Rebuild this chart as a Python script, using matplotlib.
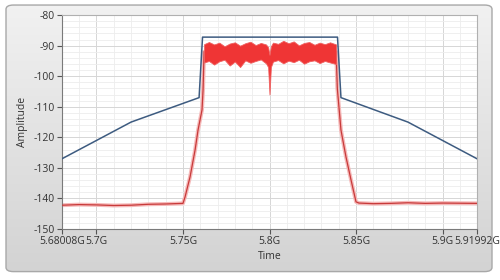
import numpy as np
import matplotlib
matplotlib.use("Agg")
import matplotlib.pyplot as plt
from matplotlib.patches import FancyBboxPatch
from matplotlib.ticker import MultipleLocator, FixedLocator, FuncFormatter

plt.rcParams['font.family'] = ['Open Sans', 'DejaVu Sans']
plt.rcParams['axes.unicode_minus'] = False

# spectral mask (blue)
mask_t = [5.68008, 5.72, 5.7593, 5.7613, 5.8393, 5.8413, 5.88, 5.91992]
mask_a = [-127, -115, -107, -87.2, -87.2, -107, -115, -127]

# measured signal (red): floor + ramps
left_t = [5.68008, 5.690, 5.700, 5.710, 5.720, 5.730, 5.740, 5.7500,
          5.7512, 5.7541, 5.7570, 5.7587, 5.7610, 5.7616, 5.7622]
left_a = [-142.2, -142.0, -142.1, -142.3, -142.2, -141.9, -141.8, -141.6,
          -139.5, -132.9, -124.1, -117.6, -111.0, -104.5, -92.0]
right_t = [5.8385, 5.8392, 5.8413, 5.8442, 5.8471, 5.8500, 5.8517,
           5.860, 5.870, 5.880, 5.890, 5.900, 5.91992]
right_a = [-92.0, -104.0, -117.6, -126.4, -133.9, -141.1, -141.5,
           -141.7, -141.6, -141.4, -141.6, -141.5, -141.6]

# in-band noisy region, upper/lower envelope
band_t = [5.7622, 5.765, 5.768, 5.771, 5.774, 5.777, 5.780, 5.783, 5.786,
          5.789, 5.792, 5.795, 5.798, 5.7992, 5.8000, 5.8008, 5.802, 5.805,
          5.808, 5.811, 5.814, 5.817, 5.820, 5.823, 5.826, 5.829, 5.832,
          5.835, 5.8385]
band_hi = [-89.5, -88.8, -89.6, -89.0, -90.2, -89.3, -88.9, -90.0, -89.2,
           -88.7, -89.8, -89.1, -89.6, -90.5, -93.0, -90.2, -89.0, -89.4,
           -88.4, -89.2, -88.6, -89.9, -89.1, -88.8, -89.7, -89.0, -89.5,
           -88.9, -89.6]
band_lo = [-95.5, -95.0, -96.2, -95.1, -94.6, -96.5, -95.2, -97.0, -94.8,
           -95.6, -95.0, -94.5, -95.8, -97.0, -106.0, -97.0, -95.2, -94.7,
           -95.8, -94.9, -95.4, -94.6, -95.9, -95.1, -94.8, -95.7, -95.0,
           -95.5, -96.0]

x_ticks = [5.68008, 5.7, 5.75, 5.8, 5.85, 5.9, 5.91992]
x_labels = ["5.68008G", "5.7G", "5.75G", "5.8G", "5.85G", "5.9G", "5.91992G"]
y_ticks = [-150, -140, -130, -120, -110, -100, -90, -80]

fig = plt.figure(figsize=(5.0, 2.8), dpi=100)

# grey rounded panel with vertical gradient
bg = fig.add_axes([0, 0, 1, 1])
bg.set_xlim(0, 1)
bg.set_ylim(0, 1)
bg.axis("off")
grad = np.linspace(0, 1, 256).reshape(-1, 1)
im = bg.imshow(grad, extent=[0, 1, 0, 1], aspect="auto", origin="lower",
               cmap=matplotlib.colors.LinearSegmentedColormap.from_list(
                   "g", ["#d2d2d2", "#f2f2f2"]))
panel = FancyBboxPatch((0.012, 0.03), 0.972, 0.952,
                       boxstyle="round,pad=0,rounding_size=0.015",
                       transform=bg.transAxes, fc="none", ec="#a8a8a8", lw=1.0)
bg.add_patch(panel)
im.set_clip_path(panel)

ax = fig.add_axes([0.124, 0.182, 0.830, 0.764])
ax.set_facecolor("white")

ax.plot(mask_t, mask_a, color="#3d5b80", lw=1.1, zorder=4)

for t, a in [(left_t, left_a), (right_t, right_a)]:
    ax.plot(t, a, color="#f5b8b8", lw=2.8, zorder=2, solid_capstyle="round")
    ax.plot(t, a, color="#c83a3a", lw=0.9, zorder=3)
ax.fill_between(band_t, band_lo, band_hi, color="#ef3535", lw=0.6,
                edgecolor="#f06060", zorder=3)

ax.set_xlim(5.68008, 5.91992)
ax.set_ylim(-150, -80)
ax.xaxis.set_major_locator(FixedLocator(x_ticks))
ax.set_xticklabels(x_labels)
ax.xaxis.set_minor_locator(MultipleLocator(0.01))
ax.yaxis.set_major_locator(FixedLocator(y_ticks))
ax.yaxis.set_minor_locator(MultipleLocator(2))
ax.yaxis.set_major_formatter(FuncFormatter(lambda v, p: "%d" % v))

ax.grid(which="major", color="#d6d6d6", lw=0.7)
ax.grid(which="minor", color="#ededed", lw=0.6)
ax.set_axisbelow(True)

ax.tick_params(which="major", direction="out", length=3.5, width=0.8,
               color="#555555", labelsize=7.5, labelcolor="#333333", pad=1.5)
ax.tick_params(which="minor", length=0)
for side in ["left", "bottom"]:
    ax.spines[side].set_color("#7a7a7a")
for side in ["top", "right"]:
    ax.spines[side].set_color("#b0b0b0")

ax.set_xlabel("Time", fontsize=7.5, color="#333333", labelpad=3)
ax.set_ylabel("Amplitude", fontsize=7.5, color="#333333", labelpad=4)

fig.savefig("out.png", dpi=100)
